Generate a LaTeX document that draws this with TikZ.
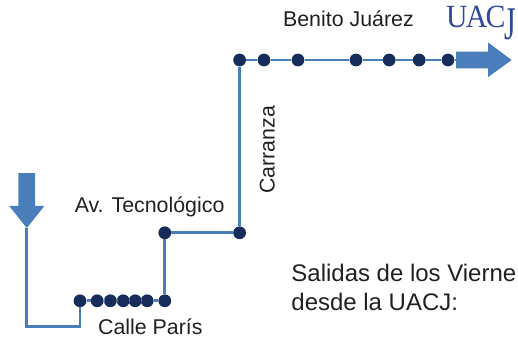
\documentclass[tikz,border=0pt]{standalone}
\usepackage{fontspec}
\setmainfont{Liberation Sans}
\newfontfamily\logofont{Liberation Serif}
\usepackage{tikz}
\usepackage{graphicx}
\usetikzlibrary{arrows}
\definecolor{routeblue}{HTML}{4A7EBB}
\definecolor{stopblue}{HTML}{162D5C}
\definecolor{logoblue}{HTML}{2F4A9C}
\definecolor{labelgray}{HTML}{231F20}
\tikzset{
  stopdot/.style={circle, fill=stopblue, inner sep=0pt, minimum size=0.32cm},
  route/.style={routeblue, line width=2.1pt},
  bigarrow/.style={fill=routeblue, draw=none},
  streetlabel/.style={text=labelgray, inner sep=0pt, font=\fontsize{15.2}{18}\selectfont}
}

\begin{document}
\begin{tikzpicture}
  \useasboundingbox (0,0) rectangle (12.95,8.45);
  \node [stopdot] (b1) at (5.99,6.95) {};
  \node [stopdot] (b2) at (6.60,6.95) {};
  \node [stopdot] (b3) at (7.45,6.95) {};
  \node [stopdot] (b4) at (8.90,6.95) {};
  \node [stopdot] (b5) at (9.73,6.95) {};
  \node [stopdot] (b6) at (10.48,6.95) {};
  \node [stopdot] (b7) at (11.20,6.95) {};
  \node [stopdot] (tec) at (4.12,2.63) {};
  \node [stopdot] (car) at (5.99,2.63) {};
  \node [stopdot] (p1) at (2.00,0.93) {};
  \node [stopdot] (p2) at (2.43,0.93) {};
  \node [stopdot] (p3) at (2.76,0.93) {};
  \node [stopdot] (p4) at (3.08,0.93) {};
  \node [stopdot] (p5) at (3.38,0.93) {};
  \node [stopdot] (p6) at (3.68,0.93) {};
  \node [stopdot] (p7) at (4.12,0.93) {};
  \coordinate (tipdown) at (0.67,2.75);
  \coordinate (bend) at (0.67,0.28);
  \coordinate (bendb) at (2.00,0.28);
  \coordinate (tailright) at (11.45,6.95);
  \draw [route] (tipdown) -- (bend) -- (bendb) -- (p1);
  \draw [route] (p1) -- (p2);
  \draw [route] (p2) -- (p3);
  \draw [route] (p3) -- (p4);
  \draw [route] (p4) -- (p5);
  \draw [route] (p5) -- (p6);
  \draw [route] (p6) -- (p7);
  \draw [route] (p7) -- (tec);
  \draw [route] (tec) -- (car);
  \draw [route] (car) -- (b1);
  \draw [route] (b1) -- (b2);
  \draw [route] (b2) -- (b3);
  \draw [route] (b3) -- (b4);
  \draw [route] (b4) -- (b5);
  \draw [route] (b5) -- (b6);
  \draw [route] (b6) -- (b7);
  \draw [route] (b7) -- (tailright);
  \fill [bigarrow] (0.46,4.12) -- (0.88,4.12) -- (0.88,3.30) -- (1.11,3.30) -- (tipdown) -- (0.23,3.30) -- (0.46,3.30) -- cycle;
  \fill [bigarrow] (11.40,7.16) -- (12.20,7.16) -- (12.20,7.39) -- (12.79,6.95) -- (12.20,6.52) -- (12.20,6.74) -- (11.40,6.74) -- cycle;
  \node [streetlabel] (juarez) at (8.71,7.97) {Benito Juárez};
  \node [streetlabel] (tecno) at (3.74,3.27) {Av. Tecnológico};
  \node [streetlabel] (paris) at (3.76,0.29) {Calle París};
  \node [streetlabel, rotate=90] (carranza) at (6.68,4.70) {Carranza};
  \node [streetlabel, anchor=south west, align=left, font=\fontsize{17.05}{20.6}\selectfont] (salidas) at (7.28,0.67) {Salidas de los Vierne\\desde la UACJ:};
  \node [text=logoblue, inner sep=0pt, xscale=0.92, font=\logofont\fontsize{23}{24}\selectfont, anchor=base] (logo) at (12.03,7.75) {U\kern-0.06em A\kern-0.06em C\kern-0.03em\raisebox{-0.36em}{\scalebox{1}[1.45]{J}}};
\end{tikzpicture}
\end{document}
